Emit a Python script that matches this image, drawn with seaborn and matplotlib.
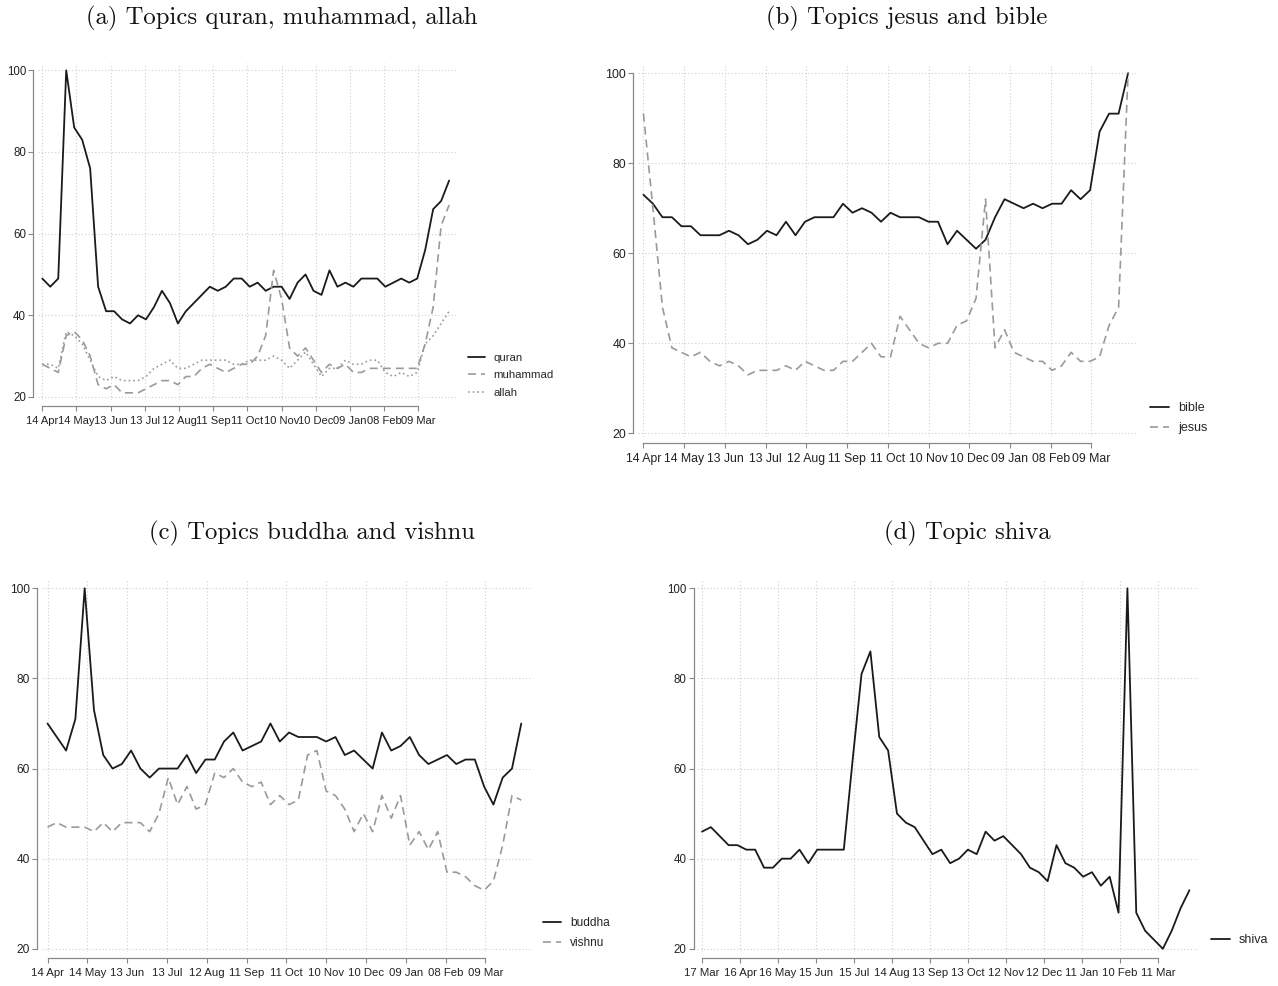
import numpy as np
import pandas as pd
import seaborn as sns
import matplotlib.pyplot as plt

# weekly search interest (index 0..51 / 0..55)
quran = [49, 47, 49, 100, 86, 83, 76, 47, 41, 41, 39, 38, 40, 39, 42, 46, 43, 38, 41, 43,
         45, 47, 46, 47, 49, 49, 47, 48, 46, 47, 47, 44, 48, 50, 46, 45, 51, 47, 48, 47,
         49, 49, 49, 47, 48, 49, 48, 49, 56, 66, 68, 73]
muhammad = [28, 27, 26, 35, 36, 34, 30, 23, 22, 23, 21, 21, 21, 22, 23, 24, 24, 23, 25, 25,
            27, 28, 27, 26, 27, 28, 28, 30, 35, 51, 44, 32, 30, 32, 29, 26, 28, 27, 28, 26,
            26, 27, 27, 27, 27, 27, 27, 27, 33, 42, 62, 67]
allah = [28, 28, 27, 36, 35, 33, 29, 25, 24, 25, 24, 24, 24, 25, 27, 28, 29, 27, 27, 28,
         29, 29, 29, 29, 28, 28, 29, 29, 29, 30, 29, 27, 29, 31, 28, 25, 27, 27, 29, 28,
         28, 29, 29, 26, 25, 26, 25, 26, 33, 35, 38, 41]

bible = [73, 71, 68, 68, 66, 66, 64, 64, 64, 65, 64, 62, 63, 65, 64, 67, 64, 67, 68, 68,
         68, 71, 69, 70, 69, 67, 69, 68, 68, 68, 67, 67, 62, 65, 63, 61, 63, 68, 72, 71,
         70, 71, 70, 71, 71, 74, 72, 74, 87, 91, 91, 100]
jesus = [91, 70, 48, 39, 38, 37, 38, 36, 35, 36, 35, 33, 34, 34, 34, 35, 34, 36, 35, 34,
         34, 36, 36, 38, 40, 37, 37, 46, 43, 40, 39, 40, 40, 44, 45, 50, 72, 39, 43, 38,
         37, 36, 36, 34, 35, 38, 36, 36, 37, 44, 48, 100]

buddha = [70, 67, 64, 71, 100, 73, 63, 60, 61, 64, 60, 58, 60, 60, 60, 63, 59, 62, 62, 66,
          68, 64, 65, 66, 70, 66, 68, 67, 67, 67, 66, 67, 63, 64, 62, 60, 68, 64, 65, 67,
          63, 61, 62, 63, 61, 62, 62, 56, 52, 58, 60, 70]
vishnu = [47, 48, 47, 47, 47, 46, 48, 46, 48, 48, 48, 46, 50, 58, 52, 56, 51, 52, 59, 58,
          60, 57, 56, 57, 52, 54, 52, 53, 63, 64, 55, 54, 51, 46, 50, 46, 54, 49, 54, 43,
          46, 42, 46, 37, 37, 36, 34, 33, 35, 43, 54, 53]

shiva = [46, 47, 45, 43, 43, 42, 42, 38, 38, 40, 40, 42, 39, 42, 42, 42, 42, 62, 81, 86,
         67, 64, 50, 48, 47, 44, 41, 42, 39, 40, 42, 41, 46, 44, 45, 43, 41, 38, 37, 35,
         43, 39, 38, 36, 37, 34, 36, 28, 100, 28, 24, 22, 20, 24, 29, 33]

labels_ac = ["14 Apr", "14 May", "13 Jun", "13 Jul", "12 Aug", "11 Sep", "11 Oct",
             "10 Nov", "10 Dec", "09 Jan", "08 Feb", "09 Mar"]
labels_d = ["17 Mar", "16 Apr", "16 May", "15 Jun", "15 Jul", "14 Aug", "13 Sep",
            "13 Oct", "12 Nov", "12 Dec", "11 Jan", "10 Feb", "11 Mar"]
titles = ["(a) Topics quran, muhammad, allah", "(b) Topics jesus and bible",
          "(c) Topics buddha and vishnu", "(d) Topic shiva"]

sns.set_theme(style="white")
plt.rcParams["font.family"] = ["Liberation Sans", "DejaVu Sans"]

W, H = 1278, 986
fig = plt.figure(figsize=(W / 100, H / 100), dpi=100)


def px_axes(left, top, right, bottom):
    return fig.add_axes([left / W, 1 - bottom / H, (right - left) / W, (bottom - top) / H])


BLACK = "#1a1a1a"
GRAY = "#9a9a9a"
styles = {
    "solid": dict(color=BLACK, linestyle="-", linewidth=1.3),
    "dash": dict(color=GRAY, linestyle=(0, (4.8, 3)), linewidth=1.2),
    "dot": dict(color=GRAY, linestyle=(0, (1, 1.8)), linewidth=1.2),
}

week = 30 / 7  # ticks every 30 days on weekly data

# each panel: box in pixels (left, top, right, bottom), font sizes (x ticks, y ticks, legend)
panels = [
    dict(box=(37.9, 63.0, 457.1, 400.2), xlim=(-0.55, 52.0),
         ticks=np.arange(12) * week, labels=labels_ac, fs=(8.0, 8.3, 8.2),
         series=[("quran", quran, "solid"), ("muhammad", muhammad, "dash"), ("allah", allah, "dot")],
         off=(4.9, 5.8), leg=(468, 353), title=(282, 18)),
    dict(box=(638.2, 65.0, 1137.6, 437.0), xlim=(-0.55, 52.0),
         ticks=np.arange(12) * week, labels=labels_ac, fs=(8.8, 8.9, 9.0),
         series=[("bible", bible, "solid"), ("jesus", jesus, "dash")],
         off=(5.2, 6.0), leg=(1150, 402), title=(907, 18)),
    dict(box=(42.4, 580.2, 531.5, 952.4), xlim=(-0.55, 52.1),
         ticks=np.arange(12) * week, labels=labels_ac, fs=(8.2, 8.6, 8.6),
         series=[("buddha", buddha, "solid"), ("vishnu", vishnu, "dash")],
         off=(5.6, 5.6), leg=(543, 917), title=(312, 533)),
    dict(box=(696.7, 580.2, 1198.3, 952.4), xlim=(-0.6, 56.0),
         ticks=np.arange(13) * week, labels=labels_d, fs=(8.2, 8.3, 9.0),
         series=[("shiva", shiva, "solid")],
         off=(3.1, 5.6), leg=(1211, 934), title=(967, 533)),
]

for p, title in zip(panels, titles):
    ax = px_axes(*p["box"])
    for name, vals, st in p["series"]:
        df = pd.DataFrame({"week": np.arange(len(vals)), "value": vals})
        sns.lineplot(data=df, x="week", y="value", ax=ax, label=name, **styles[st])
    ax.set_xlim(*p["xlim"])
    ax.set_ylim(19.2, 101.8)
    ax.set_xticks(p["ticks"])
    ax.set_yticks([20, 40, 60, 80, 100])
    sns.despine(ax=ax, offset={"left": p["off"][0] * 0.72, "bottom": p["off"][1] * 0.72}, trim=True)
    ax.set_xticks(p["ticks"], p["labels"])
    ax.set_yticks([20, 40, 60, 80, 100], ["20", "40", "60", "80", "100"])
    ax.set_xlabel("")
    ax.set_ylabel("")
    ax.grid(True, color="#cfcfcf", linestyle=(0, (1, 2)), linewidth=0.8)
    ax.tick_params(axis="both", direction="out", length=3.5, width=0.8, color="#888888",
                   labelcolor="#222222", bottom=True, left=True)
    ax.tick_params(axis="x", pad=3.5, labelsize=p["fs"][0])
    ax.tick_params(axis="y", pad=1.5, labelsize=p["fs"][1])
    for s in ("left", "bottom"):
        ax.spines[s].set_color("#888888")
        ax.spines[s].set_linewidth(0.9)
    ax.legend(loc="upper left", bbox_to_anchor=(p["leg"][0] / W, 1 - p["leg"][1] / H),
              bbox_transform=fig.transFigure, frameon=False, fontsize=p["fs"][2],
              handlelength=1.5, handletextpad=0.75, labelspacing=0.65,
              borderpad=0, borderaxespad=0)
    fig.text(p["title"][0] / W, 1 - p["title"][1] / H, title, family="cmr10",
             fontsize=17.8, ha="center", va="center", color="#111111")

fig.savefig("out.png", dpi=100, facecolor="white")
